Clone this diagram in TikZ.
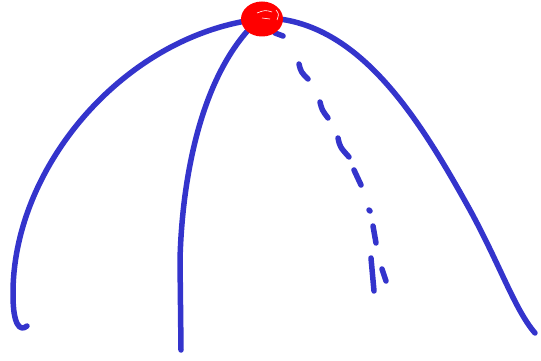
\documentclass[tikz,border=0pt]{standalone}
\begin{document}
\begin{tikzpicture}[x=1pt,y=-1pt,
  stroke/.style={draw=sketchblue,line width=5.5pt,line cap=round,line join=round}]
\definecolor{sketchblue}{RGB}{52,52,204}
\useasboundingbox (0,0) rectangle (541,361);
% left curve
\draw[stroke] (252,20) .. controls (120,40) and (12,170) .. (13,295) .. controls (13,325) and (20,332) .. (27,326);
% middle curve
\draw[stroke] (252,26) .. controls (200,80) and (182,180) .. (180,260) -- (181,350);
% right curve
\draw[stroke] (268,18) .. controls (360,22) and (420,120) .. (470,210) .. controls (500,265) and (515,310) .. (535,333);
% dashed curve
\draw[stroke] (275,33) -- (283,36);
\draw[stroke] (299,64) .. controls (301,72) .. (308,79);
\draw[stroke] (320,102) .. controls (322,110) .. (328,118);
\draw[stroke] (338,138) .. controls (340,147) .. (349,157);
\draw[stroke] (354,170) -- (361,185);
\draw[stroke] (369,210) -- (370,211);
\draw[stroke] (373,226) -- (376,243);
\draw[stroke] (371,258) -- (374,291);
\draw[stroke] (382,269) -- (386,281);
% red blob
\fill[red] (262,19) ellipse[x radius=21, y radius=17.5];
\draw[white,line width=0.6pt] (257,13) .. controls (265,10) .. (272,12);
\draw[white,line width=0.6pt] (262,18) -- (270,19);
\draw[white,line width=0.6pt] (276,10) .. controls (279,14) .. (277,20);
\end{tikzpicture}
\end{document}
